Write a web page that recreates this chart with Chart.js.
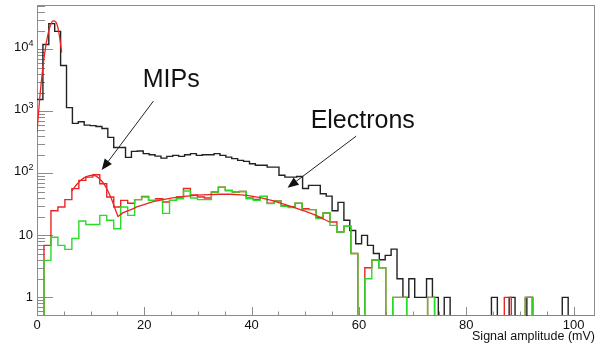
<!DOCTYPE html>
<html><head><meta charset="utf-8">
<script src="https://cdn.jsdelivr.net/npm/chart.js@4.4.1/dist/chart.umd.min.js"></script>
<style>html,body{margin:0;padding:0;background:#fff;}canvas{display:block;}</style>
</head><body>
<canvas id="c" width="596" height="346"></canvas>
<script>
// ---------------- data ----------------
const X_MIN = 0, X_MAX = 104;
const Y_MIN = 0.5, Y_MAX = 52000;
const allBinWidth = 1.1;   // mV, all signals (black)
const selBinWidth = 1.3;   // mV, selected (red / green)

// black: all signals, 1.1 mV bins
const allCounts = [1550,12000,26000,19500,5500,1150,640,680,600,590,
  570,530,380,262,262,181,226,230,208,200,
  190,176,188,195,188,200,208,195,200,200,
  208,195,183,173,162,156,143,135,135,126,
  126,93,87,87,89,57,64,64,47,43,
  25,34,17.5,12,7.3,10,6.9,5.1,4.05,4.75,
  6,2,1,2,1,1,2,1,0,1,
  0,0,0,0,0,0,0,1,0,0,
  1,0,0,1,0,0,0,0,0,1,
  0,0,0,0,0];
// red: MIPs + electrons, 1.3 mV bins
const mipElecCounts = [0,6.9,25,28.6,37.7,56.7,77,87,95,68,
  41.5,28.6,36.6,33,37.7,42.5,36.6,39,34.5,36.6,
  41.5,57,45,41.5,40,50,60,53,50,51,
  40,38,42.5,33,36,30,29,33,27,26,
  19.5,23,16.4,11.3,14,5.1,0,3,4,3,
  0,1,1,0,0,0,1,0,0,0,
  0,0,0,0,0,0,0,1,0,0,
  1,0,0,0,0,0,0,0,0,0];
// green: electrons, 1.3 mV bins
const elecCounts = [0,3.95,9.3,6.9,5.95,8.9,17,15,15,21,
  17.5,12.8,28.6,21,37.7,41.5,36.6,37.7,22.6,36.6,
  39,52,40,37.7,37.7,50,60,53,50,51,
  39,36.6,42.5,32.5,35.4,29.4,28,33,26,26,
  18.6,23,14.5,11.3,14,5.1,0,2,4,3,
  0,1,1,0,0,0,1,0,0,0,
  0,0,0,0,0,0,0,0,0,0,
  1,0,0,0,0,0,0,0,0,0];

// fitted curves
const pedFitX = [0,0.5,1.0,1.5,2.0,2.5,3.0,3.5,4.0,4.3,4.6];
const pedFitY = [460,1600,4300,9500,16800,24500,28900,27700,20500,14000,8900];
const mipFitX = [6.5,7,7.5,8,8.5,9,9.5,10,10.5,11,11.5,12,12.5,13,13.5,14,14.5,15.1];
const mipFitY = [52,60,67.5,75,81.5,87,90.6,92.6,92.7,90,84,76,67,56.5,46,36.5,27.7,20];
const elecFitX = [15.1,16,17.5,19,20.5,22,24,26,28,30,32,34,36,38,40,42,44,46,48,50,52,54.5];
const elecFitY = [20,23,26,29.5,32.5,35.5,38.5,41,43,44.5,45.5,46,46,45,43,40,36,32,28,24.5,21,16.4];

const xTickLabels = [0,20,40,60,80,100];
const yDecades = [0,1,2,3,4];
const yDecadeText = ['1','10','10','10','10'];
const yDecadeExp  = ['','','2','3','4'];
const labelTexts = ['MIPs','Electrons'];
const xTitle = 'Signal amplitude (mV)';

// ---------------- layout / style constants ----------------
const FONT = '"Liberation Sans", Arial, Helvetica, sans-serif';
const annotations = [
  {text: labelTexts[0], x: 19.7, y: 2470, from: [21.7, 1466], to: [12.06, 113]},
  {text: labelTexts[1], x: 51.0, y: 545,  from: [59.5, 399],  to: [46.7, 58.5]}
];

function histPoints(counts, w) {
  const pts = counts.map((c, i) => ({x: i * w, y: c > 0 ? c : Y_MIN}));
  const last = counts[counts.length - 1];
  pts.push({x: counts.length * w, y: last > 0 ? last : Y_MIN});
  return pts;
}
function curvePoints(xs, ys) { return xs.map((x, i) => ({x, y: ys[i]})); }

const RED = 'rgb(236,36,36)', GREEN = 'rgb(40,220,40)', BLACK = '#222', AXIS = '#8c8c8c';

const framePlugin = {
  id: 'frame',
  beforeDatasetsDraw(chart) {
    const {ctx, chartArea: a, scales: {x, y}} = chart;
    ctx.save();
    ctx.strokeStyle = AXIS; ctx.lineWidth = 1;
    ctx.strokeRect(a.left + 0.5, a.top + 0.5, a.right - a.left - 1, a.bottom - a.top - 1);
    ctx.beginPath();
    // y ticks (inside)
    y.ticks.forEach(t => {
      const v = t.value; if (!(v > 0)) return;
      const e = Math.floor(Math.log10(v) + 1e-9);
      const m = v / Math.pow(10, e);
      if (Math.abs(m - Math.round(m)) > 1e-6) return;
      const py = Math.round(y.getPixelForValue(v)) + 0.5;
      if (py < a.top || py > a.bottom) return;
      const len = Math.round(m) === 1 ? 16 : 8;
      ctx.moveTo(a.left, py); ctx.lineTo(a.left + len, py);
    });
    // x ticks (inside)
    x.ticks.forEach(t => {
      const px = Math.round(x.getPixelForValue(t.value)) + 0.5;
      const len = t.value % 20 === 0 ? 9 : 4.5;
      ctx.moveTo(px, a.bottom); ctx.lineTo(px, a.bottom - len);
    });
    ctx.stroke();
    ctx.restore();
  },
  afterDraw(chart) {
    const {ctx, chartArea: a, scales: {x, y}} = chart;
    ctx.save();
    // y labels with exponents
    ctx.fillStyle = '#111';
    ctx.textBaseline = 'middle';
    ctx.textAlign = 'right';
    yDecades.forEach((d, i) => {
      const py = y.getPixelForValue(Math.pow(10, d));
      const exp = yDecadeExp[i];
      if (!exp) {
        ctx.font = '13px ' + FONT;
        ctx.fillText(yDecadeText[i], a.left - 4, py);
      } else {
        ctx.font = '9px ' + FONT;
        ctx.fillText(exp, a.left - 3.5, py - 5.5);
        const ew = ctx.measureText(exp).width;
        ctx.font = '13px ' + FONT;
        ctx.fillText(yDecadeText[i], a.left - 3.5 - ew, py - 1.5);
      }
    });
    // annotations
    ctx.strokeStyle = '#222'; ctx.fillStyle = '#111'; ctx.lineWidth = 1;
    annotations.forEach(an => {
      ctx.font = '25px ' + FONT;
      ctx.textAlign = 'left'; ctx.textBaseline = 'alphabetic';
      ctx.fillText(an.text, x.getPixelForValue(an.x), y.getPixelForValue(an.y));
      const x0 = x.getPixelForValue(an.from[0]), y0 = y.getPixelForValue(an.from[1]);
      const x1 = x.getPixelForValue(an.to[0]),   y1 = y.getPixelForValue(an.to[1]);
      const ang = Math.atan2(y1 - y0, x1 - x0);
      const hl = 11, hw = 4.5;
      const bx = x1 - hl * Math.cos(ang), by = y1 - hl * Math.sin(ang);
      ctx.beginPath(); ctx.moveTo(x0, y0); ctx.lineTo(bx, by); ctx.stroke();
      ctx.beginPath();
      ctx.moveTo(x1, y1);
      ctx.lineTo(bx + hw * Math.sin(ang), by - hw * Math.cos(ang));
      ctx.lineTo(bx - hw * Math.sin(ang), by + hw * Math.cos(ang));
      ctx.closePath(); ctx.fill();
    });
    ctx.restore();
  }
};

const lineDs = (data, color, order, extra) => Object.assign({
  data, borderColor: color, borderWidth: 1.4, pointRadius: 0, fill: false, order
}, extra);

new Chart(document.getElementById('c'), {
  type: 'line',
  data: {
    datasets: [
      lineDs(curvePoints(pedFitX, pedFitY), RED, 0, {cubicInterpolationMode: 'monotone', borderWidth: 1.3}),
      lineDs(curvePoints(mipFitX, mipFitY), RED, 0, {cubicInterpolationMode: 'monotone', borderWidth: 1.3}),
      lineDs(curvePoints(elecFitX, elecFitY), RED, 0, {cubicInterpolationMode: 'monotone', borderWidth: 1.3}),
      lineDs(histPoints(elecCounts, selBinWidth), GREEN, 1, {stepped: 'before'}),
      lineDs(histPoints(mipElecCounts, selBinWidth), RED, 2, {stepped: 'before'}),
      lineDs(histPoints(allCounts, allBinWidth), BLACK, 3, {stepped: 'before'})
    ]
  },
  options: {
    responsive: false,
    animation: false,
    devicePixelRatio: 1,
    layout: {padding: {top: 5, right: 1, left: 0, bottom: 0}},
    plugins: {legend: {display: false}, tooltip: {enabled: false}},
    scales: {
      x: {
        type: 'linear', min: X_MIN, max: X_MAX,
        border: {display: false},
        grid: {display: false, drawTicks: false},
        ticks: {
          stepSize: 5, includeBounds: false, autoSkip: false, maxRotation: 0, padding: 2,
          color: '#111', font: {family: FONT, size: 13},
          callback: v => xTickLabels.includes(v) ? String(v) : ''
        },
        title: {display: true, text: xTitle, align: 'end', color: '#111',
          font: {family: FONT, size: 12.5}, padding: {top: 0, bottom: 2}},
        afterFit: s => { s.height = 30; }
      },
      y: {
        type: 'logarithmic', min: Y_MIN, max: Y_MAX,
        border: {display: false},
        grid: {display: false, drawTicks: false},
        ticks: {display: false, autoSkip: false},
        afterFit: s => { s.width = 37; }
      }
    }
  },
  plugins: [framePlugin]
});
</script>
</body></html>
